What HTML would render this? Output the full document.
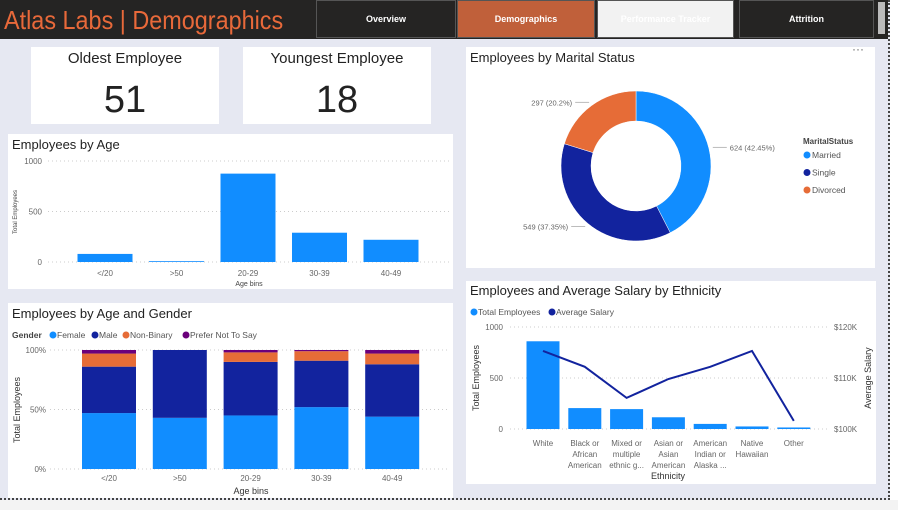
<!DOCTYPE html>
<html><head><meta charset="utf-8">
<style>
body{margin:0;width:898px;height:510px;overflow:hidden;background:#fff;font-family:"Liberation Sans",sans-serif;}
#canvas{position:absolute;left:0;top:0;width:888px;height:498px;background:#e6e8f2;border-right:2px dotted #444;border-bottom:2px dotted #444;}
.card{position:absolute;background:#fff;}
.hdr{position:absolute;left:0;top:0;width:888px;height:39px;background:#252423;}
.nav{position:absolute;top:0;height:38px;color:#fff;font-size:9px;font-weight:bold;display:flex;align-items:center;justify-content:center;border:1px solid #555;box-sizing:border-box;}
.ctitle{position:absolute;font-size:13px;color:#222;}
.kpi-t{position:absolute;width:100%;text-align:center;top:3px;font-size:15px;color:#222;}
.kpi-v{position:absolute;width:100%;text-align:center;top:32px;font-size:38px;color:#222;}
svg text{font-family:"Liberation Sans",sans-serif;}
</style></head><body>
<div id="canvas"></div>
<div class="hdr">
  <div style="position:absolute;left:4px;top:5px;font-size:26px;color:#e8693a;transform:scaleX(0.9);transform-origin:left;white-space:nowrap;">Atlas Labs | Demographics</div>
  <div class="nav" style="left:316px;width:140px;">Overview</div>
  <div class="nav" style="left:457px;width:138px;background:#c0603a;">Demographics</div>
  <div class="nav" style="left:597px;width:137px;background:#f2f2f2;color:#fff;">Performance Tracker</div>
  <div class="nav" style="left:739px;width:135px;">Attrition</div>
  <div style="position:absolute;left:878px;top:2px;width:7px;height:32px;background:#bbb;"></div>
</div>
<div style="position:absolute;left:0;top:500px;width:898px;height:10px;background:#f3f3f3;"></div>

<div class="card" style="left:31px;top:47px;width:188px;height:77px;">
  <div class="kpi-t">Oldest Employee</div>
  <div class="kpi-v">51</div>
</div>
<div class="card" style="left:243px;top:47px;width:188px;height:77px;">
  <div class="kpi-t">Youngest Employee</div>
  <div class="kpi-v">18</div>
</div>

<div class="card" style="left:466px;top:47px;width:409px;height:221px;">
  <div class="ctitle" style="left:4px;top:3px;">Employees by Marital Status</div>
  <div style="position:absolute;left:386px;top:-5px;font-size:12px;color:#666;">···</div>
</div>
<div class="card" style="left:8px;top:134px;width:445px;height:155px;">
  <div class="ctitle" style="left:4px;top:3px;">Employees by Age</div>
</div>
<div class="card" style="left:8px;top:303px;width:445px;height:195px;">
  <div class="ctitle" style="left:4px;top:3px;">Employees by Age and Gender</div>
</div>
<div class="card" style="left:466px;top:281px;width:410px;height:203px;">
  <div class="ctitle" style="left:4px;top:2px;">Employees and Average Salary by Ethnicity</div>
</div>

<svg id="svg" width="898" height="510" style="position:absolute;left:0;top:0;"></svg>

<script>
// Age chart data
const ageBins=["</20",">50","20-29","30-39","40-49"];
const ageCounts=[80,8,875,290,220];
const ageTicks=[0,500,1000];
// Age-gender data (percent)
const agFemale=[47,43,45,52,44];
const agMale=[39,57,45,39,44];
const agNonBinary=[11,0,8,8,9];
const agPreferNot=[3,0,2,1,3];
const pctTicks=[0,50,100];
// Marital data
const maritalLabels=["Married","Single","Divorced"];
const maritalCounts=[624,549,297];
// Ethnicity data
const ethLabels=[["White"],["Black or","African","American"],["Mixed or","multiple","ethnic g..."],["Asian or","Asian","American"],["American","Indian or","Alaska ..."],["Native","Hawaiian"],["Other"]];
const ethCounts=[860,205,195,115,50,25,15];
const ethSalaryK=[115.3,112.2,106.1,109.8,112.2,115.3,101.6];
const ethLeftTicks=[0,500,1000];
const ethRightTicks=[100,110,120];

const NS="http://www.w3.org/2000/svg";
const svg=document.getElementById('svg');
function mk(tag,attrs,parent){const e=document.createElementNS(NS,tag);for(const k in attrs)e.setAttribute(k,attrs[k]);(parent||svg).appendChild(e);return e;}
function txt(x,y,s,size,fill,anchor,extra){const t=mk('text',Object.assign({x:x,y:y,'font-size':size,fill:fill,'text-anchor':anchor||'start'},extra||{}));t.textContent=s;return t;}
const C1="#118dff",C2="#12239e",C3="#e66c37",C4="#6b007b";

// ---- Age chart
(function(){
  const y0=262,y1=161,x0=48,x1=450,max=1000;
  const ys=v=>y0-(v/max)*(y0-y1);
  const xs=i=>105+i*71.5;
  ageTicks.forEach(t=>{
    const l=mk('line',{x1:x0,x2:x1,y1:ys(t),y2:ys(t),stroke:'#ccc','stroke-dasharray':'1,3'});
    
    const tt=txt(42,ys(t)+3,String(t),8,'#666','end');
    
  });
  ageBins.forEach((b,i)=>{
    const r=mk('rect',{x:xs(i)-27.5,y:ys(ageCounts[i]),width:55,height:y0-ys(ageCounts[i]),fill:C1});
    
    const t=txt(xs(i),276,b,8,'#666','middle');
    
  });
  const xt=txt(249,286,'Age bins',7,'#444','middle');
  const yt=txt(0,0,'Total Employees',6,'#444','middle',{transform:'translate(17,212) rotate(-90)'});
  
})();

// ---- Age-gender chart
(function(){
  const y0=469,y1=350,x0=50,x1=450;
  const ys=v=>y0-(v/100)*(y0-y1);
  const xs=i=>109+i*70.8;
  pctTicks.forEach(t=>{
    const l=mk('line',{x1:x0,x2:x1,y1:ys(t),y2:ys(t),stroke:'#ccc','stroke-dasharray':'1,3'});
    
    const tt=txt(46,ys(t)+3,t+'%',8,'#666','end');
    
  });
  const series=[agFemale,agMale,agNonBinary,agPreferNot],cols=[C1,C2,C3,C4];
  ageBins.forEach((b,i)=>{
    let acc=0;
    series.forEach((s,k)=>{
      if(s[i]<=0)return;
      const r=mk('rect',{x:xs(i)-27,y:ys(acc+s[i]),width:54,height:ys(acc)-ys(acc+s[i]),fill:cols[k]});
      
      acc+=s[i];
    });
    const t=txt(xs(i),481,b,8,'#666','middle');
  });
  const xt=txt(251,494,'Age bins',9,'#333','middle');
  const yt=txt(0,0,'Total Employees',9,'#333','middle',{transform:'translate(20,410) rotate(-90)'});
  
  const lg=txt(12,338,'Gender',8.5,'#444','start',{'font-weight':'bold'});
  const names=['Female','Male','Non-Binary','Prefer Not To Say'],lx=[53,95,126,186];
  names.forEach((n,k)=>{
    const c=mk('circle',{cx:lx[k],cy:335,r:3.5,fill:cols[k]});
    const t=txt(lx[k]+4,338,n,8.5,'#555');
  });
})();

// ---- Donut
(function(){
  const cx=636,cy=166,R=75,r=45;
  const total=maritalCounts.reduce((a,b)=>a+b,0);
  const cols=[C1,C2,C3];
  let a=0;
  maritalCounts.forEach((v,i)=>{
    const a2=a+v/total*2*Math.PI;
    const p=(ang,rad)=>[cx+rad*Math.sin(ang),cy-rad*Math.cos(ang)];
    const [x1,y1]=p(a,R),[x2,y2]=p(a2,R),[x3,y3]=p(a2,r),[x4,y4]=p(a,r);
    const lg=(a2-a)>Math.PI?1:0;
    const path=mk('path',{d:`M${x1},${y1}A${R},${R} 0 ${lg} 1 ${x2},${y2}L${x3},${y3}A${r},${r} 0 ${lg} 0 ${x4},${y4}Z`,fill:cols[i],stroke:'#fff','stroke-width':0.5});
    
    const mid=(a+a2)/2,[lx,ly]=p(mid,R+4),right=Math.sin(mid)>0;
    const ex=right?lx+14:lx-14;
    const ln=mk('polyline',{points:`${lx},${ly} ${ex},${ly}`,stroke:'#bbb',fill:'none'});
    
    const t=txt(right?ex+3:ex-3,ly+3,v+' ('+(v/total*100).toFixed(2).replace(/0$/,'')+'%)',7.5,'#666',right?'start':'end');
    
    a=a2;
  });
  const lt=txt(803,144,'MaritalStatus',8,'#444','start',{'font-weight':'bold'});
  maritalLabels.forEach((n,i)=>{
    const y=158+i*17.5;
    const c=mk('circle',{cx:807,cy:y-3,r:3.5,fill:cols[i]});
    const t=txt(812,y,n,8.5,'#555');
  });
})();

// ---- Ethnicity combo
(function(){
  const y0=429,y1=327,x0=510,x1=828;
  const ysL=v=>y0-(v/1000)*(y0-y1);
  const ysR=v=>y0-((v-100)/20)*(y0-y1);
  const xs=i=>543+i*41.8;
  ethLeftTicks.forEach((t,k)=>{
    const l=mk('line',{x1:x0,x2:x1,y1:ysL(t),y2:ysL(t),stroke:'#ccc','stroke-dasharray':'1,3'});
    
    const tt=txt(503,ysL(t)+3,String(t),8,'#666','end');
  });
  ethRightTicks.forEach(t=>{
    const tt=txt(834,ysR(t)+3,'$'+t+'K',8,'#666','start');
  });
  ethCounts.forEach((v,i)=>{
    const r=mk('rect',{x:xs(i)-16.5,y:ysL(v),width:33,height:y0-ysL(v),fill:C1});
    
    ethLabels[i].forEach((s,j)=>{const t=txt(xs(i),446+j*11,s,8,'#666','middle');});
  });
  const pts=ethSalaryK.map((v,i)=>xs(i)+','+ysR(v)).join(' ');
  const pl=mk('polyline',{points:pts,fill:'none',stroke:C2,'stroke-width':2});
  
  const xt=txt(668,479,'Ethnicity',9,'#333','middle');
  const yt=txt(0,0,'Total Employees',9,'#333','middle',{transform:'translate(479,378) rotate(-90)'});
  const yr=txt(0,0,'Average Salary',9,'#333','middle',{transform:'translate(871,378) rotate(-90)'});
  [['Total Employees',C1,474],['Average Salary',C2,552]].forEach(([n,c,x])=>{
    const m=mk('circle',{cx:x,cy:312,r:3.5,fill:c});
    const t=txt(x+4,315,n,8.5,'#555');
  });
})();
</script>
</body></html>
